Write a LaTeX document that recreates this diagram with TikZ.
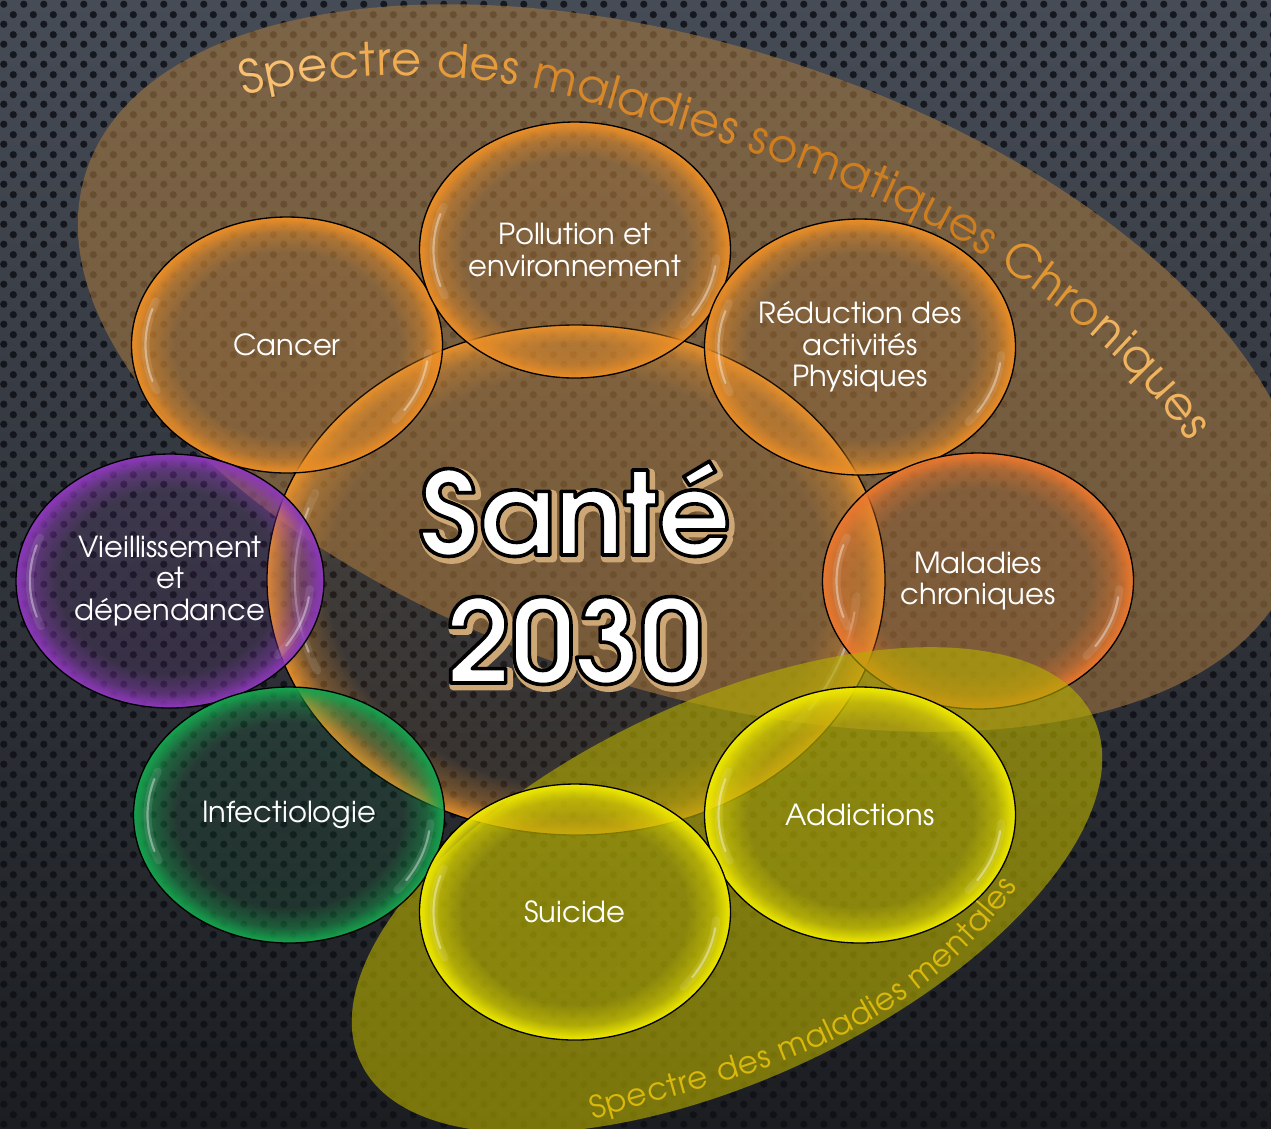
\documentclass[tikz,border=0pt]{standalone}
\usepackage{fontspec}
\IfFontExistsTF{texgyreadventor-regular.otf}{%
  \setmainfont{texgyreadventor}[Extension=.otf, UprightFont=*-regular, BoldFont=*-bold, ItalicFont=*-italic, BoldItalicFont=*-bolditalic]}{%
  \setmainfont{Poppins}}
\usetikzlibrary{decorations.text,fadings,patterns.meta,shapes.geometric}

% 1 reference pixel = 0.25pt
\definecolor{bgtop}{RGB}{70,76,86}
\definecolor{bgbot}{RGB}{27,29,33}
\definecolor{dotcol}{RGB}{14,16,22}
\definecolor{somcol}{RGB}{160,116,62}
\definecolor{mentfill}{RGB}{182,174,0}
\definecolor{orangeb}{RGB}{236,142,38}
\definecolor{redorb}{RGB}{236,120,46}
\definecolor{centreb}{RGB}{234,146,44}
\definecolor{purpleb}{RGB}{142,56,188}
\definecolor{greenb}{RGB}{22,164,78}
\definecolor{yellowb}{RGB}{240,234,0}
\definecolor{glowcol}{RGB}{205,168,118}
\definecolor{mentcol}{RGB}{218,184,12}
\definecolor{ta}{RGB}{248,192,112}
\definecolor{tb}{RGB}{241,172,82}
\definecolor{tc}{RGB}{231,156,60}
\definecolor{td}{RGB}{216,136,40}
\definecolor{te}{RGB}{206,126,30}
\definecolor{tf}{RGB}{224,150,50}
\definecolor{tg}{RGB}{240,180,96}

\pgfdeclareradialshading{bubbleringshade}{\pgfpointorigin}{%
  color(0bp)=(pgftransparent!92); color(18bp)=(pgftransparent!88);
  color(22bp)=(pgftransparent!55); color(24.2bp)=(pgftransparent!12);
  color(25bp)=(pgftransparent!0); color(50bp)=(pgftransparent!0)}
\pgfdeclarefading{bubblering}{\pgfuseshading{bubbleringshade}}
\pgfdeclareradialshading{bigringshade}{\pgfpointorigin}{%
  color(0bp)=(pgftransparent!96); color(20bp)=(pgftransparent!92);
  color(23bp)=(pgftransparent!60); color(24.5bp)=(pgftransparent!15);
  color(25bp)=(pgftransparent!0); color(50bp)=(pgftransparent!0)}
\pgfdeclarefading{bigring}{\pgfuseshading{bigringshade}}

\tikzdeclarepattern{
  name=bgdots,
  type=uncolored,
  bounding box={(0pt,0pt) and (5pt,5pt)},
  tile size={(5pt,5pt)},
  code={\fill (1.25pt,1.25pt) circle [radius=0.95pt]; \fill (3.75pt,3.75pt) circle [radius=0.95pt];}
}

\newcommand\bubfont{\fontsize{7.25}{7.875}\selectfont}
\newcommand\santefont{\fontsize{28.75}{32}\selectfont\bfseries}
\newcommand\topfont{\fontsize{11.5}{12.5}\selectfont}
\newcommand\botfont{\fontsize{7.75}{8.5}\selectfont}
% text drawn with fill and stroke: line width (bp), stroke colour (rgb), text
\newcommand\strokedtext[3]{\special{pdf:literal direct 2 Tr #1 w 1 j #2 RG}#3\special{pdf:literal direct 0 Tr}}

\tikzset{
  bubble/.style={ellipse, inner sep=0pt, outer sep=0pt,
    draw=black, line width=0.33pt, text=white, align=center, font=\bubfont},
  hlwide/.style={white, opacity=.1, line width=2pt, line cap=round},
  hlthin/.style={white, opacity=.38, line width=0.55pt, line cap=round},
  santetxt/.style={anchor=base, font=\santefont, text=white, inner sep=0pt},
  santeglow/.style={anchor=base, font=\santefont, text=glowcol, inner sep=0pt}
}

% name, x, y, colour, text, x radius, y radius, fading   (all in reference pixels)
\newcommand\mybubble[8]{%
  \fill[#4, path fading=#8] (#2,#3) ellipse [x radius=#6, y radius=#7];
  \begin{scope}
    \clip (#2,#3) ellipse [x radius=#6, y radius=#7];
    \draw[hlwide] (#2,#3) ++(158:#6*0.91 and #7*0.91) arc [start angle=158, end angle=203, x radius=#6*0.91, y radius=#7*0.91];
    \draw[hlthin] (#2,#3) ++(162:#6*0.91 and #7*0.91) arc [start angle=162, end angle=198, x radius=#6*0.91, y radius=#7*0.91];
    \draw[hlwide] (#2,#3) ++(-4:#6*0.91 and #7*0.91) arc [start angle=-4, end angle=-40, x radius=#6*0.91, y radius=#7*0.91];
    \draw[hlthin] (#2,#3) ++(-8:#6*0.91 and #7*0.91) arc [start angle=-8, end angle=-34, x radius=#6*0.91, y radius=#7*0.91];
  \end{scope}
  \node[bubble, minimum width={#6*0.5pt}, minimum height={#7*0.5pt}] (#1) at (#2,#3) {#5};}

\begin{document}
\begin{tikzpicture}[x=0.25pt,y=0.25pt]
\useasboundingbox (0,0) rectangle (1271,-1128);
% background
\shade[top color=bgtop, bottom color=bgbot] (0,0) rectangle (1271,-1128);
\fill[pattern=bgdots, pattern color=dotcol, fill opacity=.85] (0,0) rectangle (1271,-1128);

% spectre des maladies somatiques
\fill[somcol, fill opacity=.6, rotate around={-18:(690,-368)}] (690,-368) ellipse [x radius=635, y radius=322];

% central bubble
\mybubble{centre}{576}{-580}{centreb}{}{309}{255}{bigring}

% orange bubbles
\mybubble{cancer}{287}{-345}{orangeb}{Cancer}{155.5}{128}{bubblering}
\mybubble{pollution}{575}{-250}{orangeb}{Pollution et\\environnement}{155.5}{128}{bubblering}
\mybubble{reduction}{860}{-347}{orangeb}{Réduction des\\activités\\Physiques}{155.5}{128}{bubblering}
\mybubble{maladies}{978}{-581}{redorb}{Maladies\\chroniques}{155.5}{128}{bubblering}
\mybubble{vieil}{170}{-581}{purpleb}{Vieillissement\\et\\dépendance}{154}{127}{bubblering}

% spectre des maladies mentales
\fill[mentfill, fill opacity=.62, rotate around={25.2:(727,-890)}] (727,-890) ellipse [x radius=405, y radius=189];

\mybubble{infect}{289}{-815}{greenb}{Infectiologie}{155.5}{128}{bubblering}
\mybubble{addict}{860}{-815}{yellowb}{Addictions}{155.5}{128}{bubblering}
\mybubble{suicide}{575}{-912}{yellowb}{Suicide}{155.5}{128}{bubblering}

% curved titles
\path[decorate, decoration={text along path, text align={fit to path},
  text={|\topfont\color{ta}|Spe|\topfont\color{tb}|ctre |\topfont\color{tc}|des |\topfont\color{td}|maladies |\topfont\color{te}|somatiques |\topfont\color{tf}|Chro|\topfont\color{tg}|niques}}]
  (245,-96) .. controls (320,-72) and (470,-62) .. (600,-106)
  .. controls (730,-142) and (880,-190) .. (975,-250)
  .. controls (1065,-307) and (1140,-370) .. (1189,-442);

\path[decorate, decoration={text along path, text align={fit to path},
  text={|\botfont\color{mentcol}|Spectre des maladies mentales}}]
  (593,-1119) .. controls (670,-1096) and (750,-1078) .. (820,-1046)
  .. controls (900,-1010) and (960,-965) .. (1018,-887);

% Santé 2030
\node[santeglow] (santeAglow) at (578,-558) {\strokedtext{2.2}{0.804 0.659 0.463}{Santé}};
\node[santeglow] (santeBglow) at (578,-686) {\strokedtext{2.2}{0.804 0.659 0.463}{2030}};
\node[santetxt] (santeA) at (575,-555) {\strokedtext{0.9}{0 0 0}{Santé}};
\node[santetxt] (santeB) at (575,-683) {\strokedtext{0.9}{0 0 0}{2030}};
\end{tikzpicture}
\end{document}
